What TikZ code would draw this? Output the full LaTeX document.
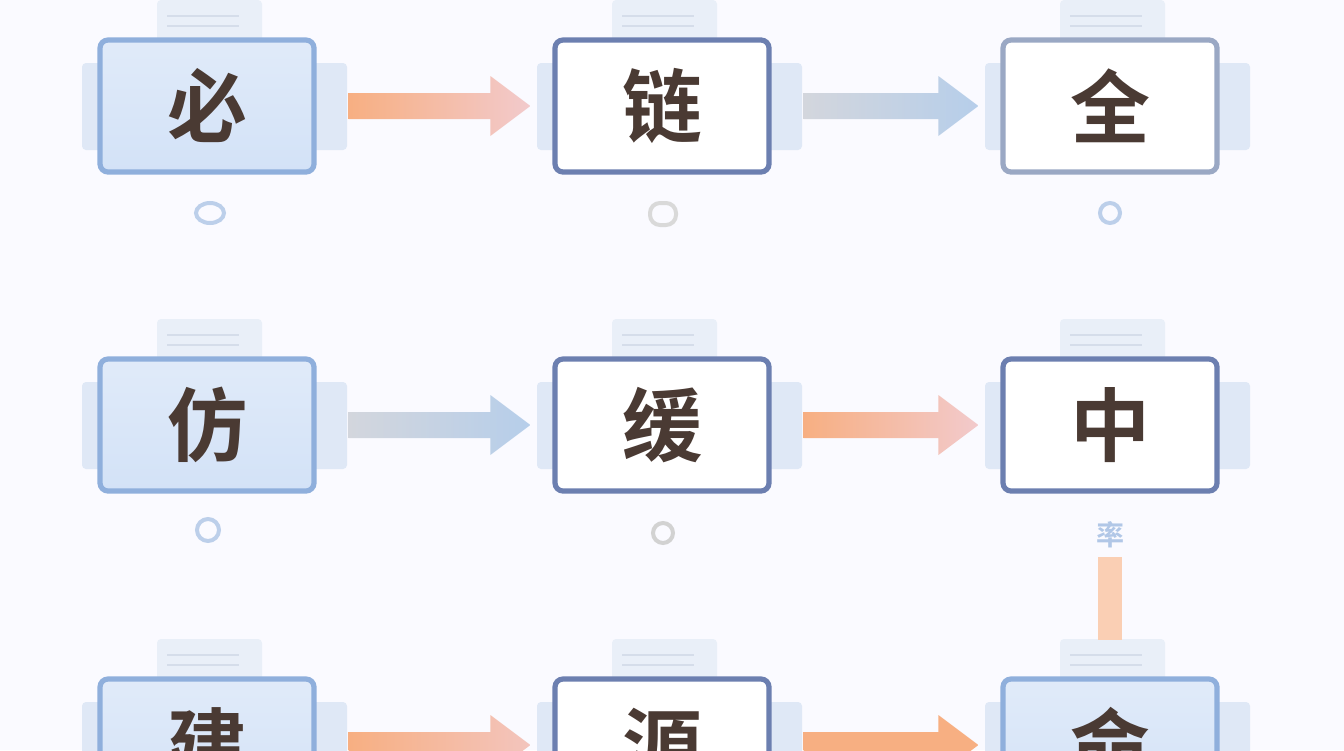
\documentclass[tikz,border=0pt]{standalone}
\usepackage{fontspec}
\newfontfamily\cjk{Noto Sans CJK SC}[BoldFont={Noto Sans CJK SC Bold}]
\usetikzlibrary{positioning}
\definecolor{inkbrown}{HTML}{4A3A33}
\definecolor{bluefill}{HTML}{D3E2F7}
\definecolor{blueedge}{HTML}{8FAFDC}
\definecolor{darkedge}{HTML}{6C7FB0}
\definecolor{grayedge}{HTML}{9AA8C4}
\definecolor{paperfill}{HTML}{E9EFF8}
\definecolor{paperline}{HTML}{D5DDEA}
\definecolor{tabfill}{HTML}{DFE8F6}
\definecolor{arrorange}{HTML}{F7AF82}
\definecolor{arrpink}{HTML}{F2CACC}
\definecolor{arrgray}{HTML}{D3D6DD}
\definecolor{arrblue}{HTML}{B6CEEA}
\tikzset{
  card/.style = {shape = rectangle, rounded corners = 4pt, line width = 2.6pt,
    minimum width = 107pt, minimum height = 66pt, text = inkbrown,
    font = \cjk\bfseries\fontsize{40}{40}\selectfont},
  bluecard/.style = {card, draw = blueedge, top color = bluefill!70!white, bottom color = bluefill},
  whitecard/.style = {card, draw = #1, fill = white},
  icon/.style = {draw = blueedge!60, line width = 2pt, fill = none}
}
\newcommand{\flowarrow}[4]{% from node, to node, left colour, right colour
  \path (#1.east) ++(32,0) coordinate (s) (#2.west) ++(-22,0) coordinate (e);
  \shade[left color = #3, right color = #4]
    ($(s)+(0,-13)$) -- ($(e)+(-40,-13)$) -- ($(e)+(-40,-30)$) -- (e)
    -- ($(e)+(-40,30)$) -- ($(e)+(-40,13)$) -- ($(s)+(0,13)$) -- cycle;
}
\usetikzlibrary{calc}
\begin{document}
\begin{tikzpicture}[x = 0.5pt, y = -0.5pt]
\useasboundingbox[fill = white!98!blue] (0,0) rectangle (1344,750);
% printer bodies behind the cards
\foreach \cx/\cy in {207/106, 662/106, 1110/106, 207/425, 662/425, 1110/425, 207/745, 662/745, 1110/745} {
  \fill[paperfill, rounded corners = 2pt] (\cx-50,\cy-106) rectangle (\cx+55,\cy-60);
  \draw[paperline, line width = 1.2pt] (\cx-40,\cy-90) -- (\cx+32,\cy-90) (\cx-40,\cy-80) -- (\cx+32,\cy-80);
  \fill[tabfill, rounded corners = 2pt] (\cx-125,\cy-43) rectangle (\cx-100,\cy+44);
  \fill[tabfill, rounded corners = 2pt] (\cx+100,\cy-43) rectangle (\cx+140,\cy+44);
}
% cards
\node[bluecard] (bi) at (207,106) {必};
\node[whitecard = darkedge] (lian) at (662,106) {链};
\node[whitecard = grayedge] (quan) at (1110,106) {全};
\node[bluecard] (fang) at (207,425) {仿};
\node[whitecard = darkedge] (huan) at (662,425) {缓};
\node[whitecard = darkedge] (zhong) at (1110,425) {中};
\node[bluecard] (jian) at (207,745) {建};
\node[whitecard = darkedge] (yuan) at (662,745) {源};
\node[bluecard] (ming) at (1110,745) {命};
% connectors
\flowarrow{bi}{lian}{arrorange}{arrpink}
\flowarrow{lian}{quan}{arrgray}{arrblue}
\flowarrow{fang}{huan}{arrgray}{arrblue}
\flowarrow{huan}{zhong}{arrorange}{arrpink}
\flowarrow{jian}{yuan}{arrorange}{arrpink!80!arrorange}
\flowarrow{yuan}{ming}{arrorange}{arrorange}
% small marks under the cards
\draw[icon] (210,213) ellipse (14 and 10);
\draw[icon, draw = gray!30, rounded corners = 5pt] (650,203) rectangle (676,225);
\draw[icon] (1110,213) circle (10);
\draw[icon] (208,530) circle (11);
\draw[icon, draw = gray!35] (663,533) circle (10);
\node[text = blueedge!70, font = \cjk\bfseries\fontsize{14}{14}\selectfont] (lv) at (1110,535) {率};
\fill[arrorange!60!white] (1098,557) rectangle (1122,640);
\end{tikzpicture}
\end{document}
